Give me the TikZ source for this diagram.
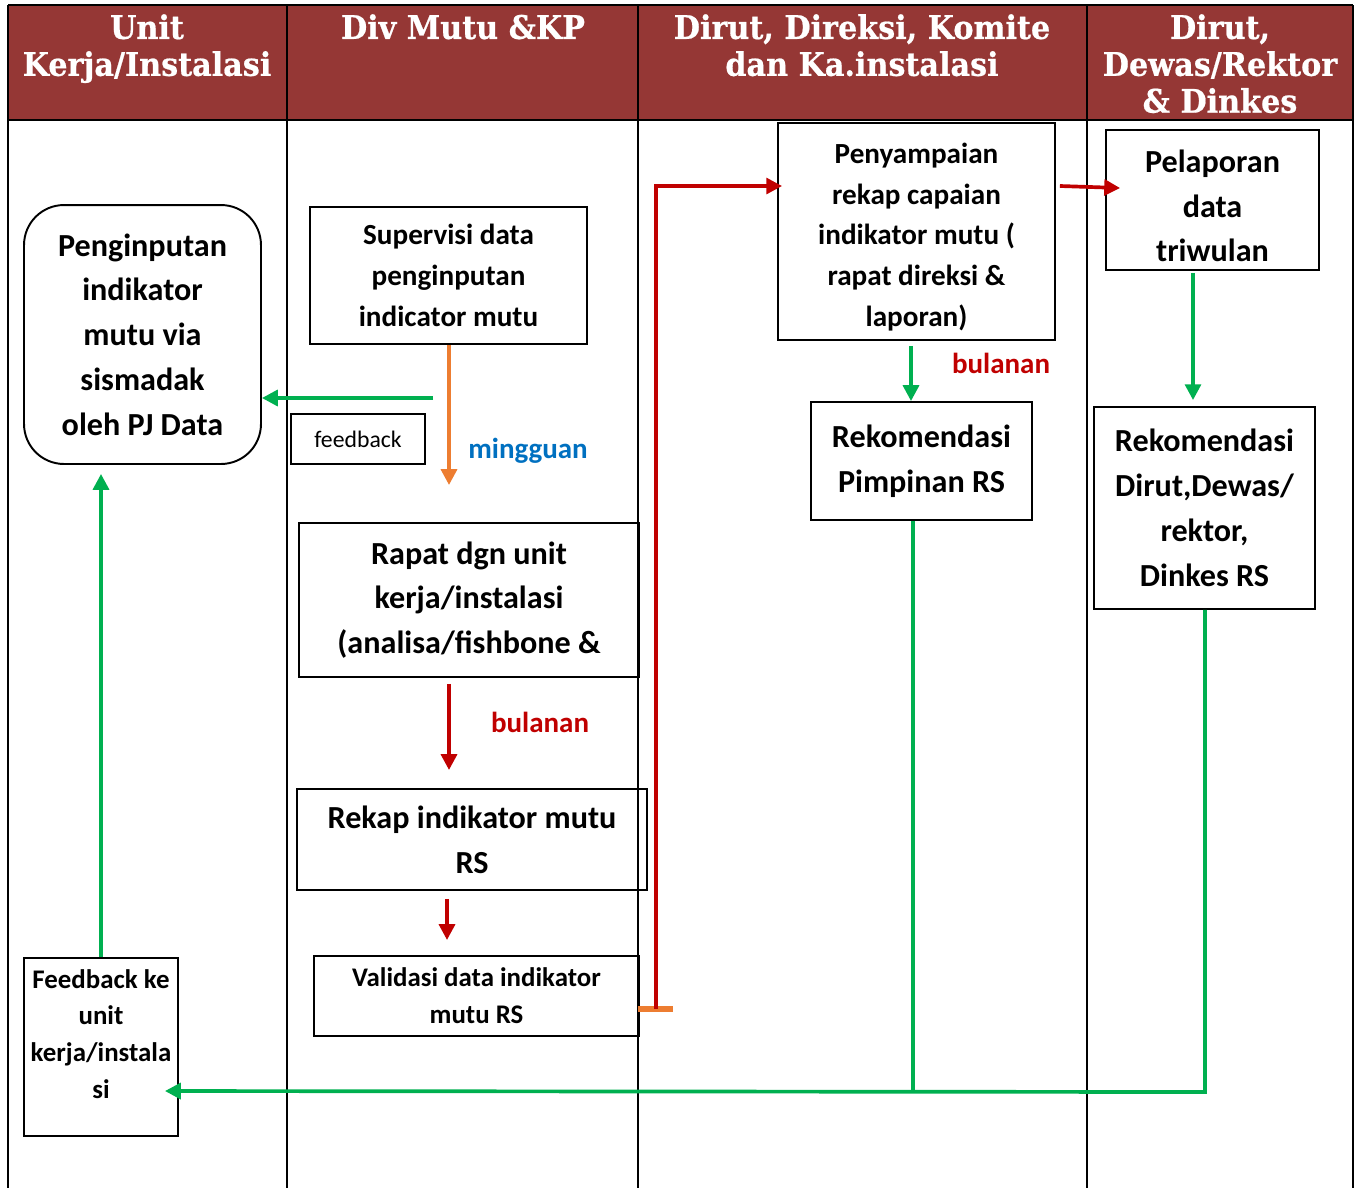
\documentclass[tikz,border=0pt]{standalone}
\usepackage{fontspec}
\setmainfont{Carlito}
\newfontfamily\headfont[FakeStretch=0.93, FakeBold=0.6]{DejaVu Serif}
\usepackage{tikz}
\usetikzlibrary{arrows.meta, positioning, calc}

\definecolor{hdrred}{RGB}{149,55,53}
\definecolor{flowgreen}{RGB}{0,176,80}
\definecolor{floworange}{RGB}{237,125,49}
\definecolor{flowred}{RGB}{192,0,0}
\definecolor{flowblue}{RGB}{0,112,192}

\begin{document}
\begin{tikzpicture}[x=0.02cm, y=-0.02cm,
  box/.style={draw, line width=1.1pt, align=center, font=\bfseries, inner sep=0pt},
  big/.style={font=\fontsize{18.3}{25.5}\selectfont\bfseries},
  mid/.style={font=\fontsize{16.6}{23.2}\selectfont\bfseries},
  small/.style={font=\fontsize{15.3}{21}\selectfont\bfseries},
  hdr/.style={text=white, align=center, font=\headfont\fontsize{18.5}{21}\selectfont\bfseries},
  note/.style={font=\fontsize{16.5}{20}\selectfont\bfseries},
  arr/.style={line width=2.1pt, -{Triangle[length=9pt,width=9pt]}}
]
  \useasboundingbox (0,0) rectangle (1361,1188);

  % Header band
  \fill[hdrred] (8,5) rectangle (1353,120);
  \foreach \x in {8,287,638,1087,1353}
    \draw[line width=1.2pt] (\x,5) -- (\x,1188);
  \draw[line width=1.6pt] (8,5) -- (1353,5) (8,120) -- (1353,120);

  \node[hdr, anchor=north] (h1) at (147,8) {Unit\\Kerja/Instalasi};
  \node[hdr, anchor=north] (h2) at (463,8) {Div Mutu \&KP};
  \node[hdr, anchor=north] (h3) at (862,8) {Dirut, Direksi, Komite\\dan Ka.instalasi};
  \node[hdr, anchor=north] (h4) at (1220,8) {Dirut,\\Dewas/Rektor\\\& Dinkes};

  % Unit kerja
  \node[box, big, rounded corners=0.8cm, minimum width=4.74cm, minimum height=5.18cm]
    (inp) at (142.5,334.5) {Penginputan\\indikator\\mutu via\\sismadak\\oleh PJ Data};
  \node[box, minimum width=3.08cm, minimum height=3.56cm] (fbk) at (101,1047) {};
  \node[small, align=center] (fbktxt) at (101,1034) {Feedback ke\\unit\\kerja/instala\\si};

  % Div Mutu
  \node[box, mid, minimum width=5.54cm, minimum height=2.74cm]
    (sup) at (448.5,275.5) {Supervisi data\\penginputan\\indicator mutu};
  \node[draw, line width=0.8pt, minimum width=2.68cm, minimum height=1cm,
    font=\fontsize{13.5}{16}\selectfont] (fb) at (358,439) {feedback};
  \node[box, big, minimum width=6.8cm, minimum height=3.08cm]
    (rap) at (469,600) {Rapat dgn unit\\kerja/instalasi\\(analisa/fishbone \&};
  \node[box, big, minimum width=7cm, minimum height=2.02cm]
    (rek) at (472,839.5) {Rekap indikator mutu\\RS};
  \node[box, small, minimum width=6.5cm, minimum height=1.6cm]
    (val) at (476.5,996) {Validasi data indikator\\mutu RS};

  % Direksi
  \node[box, minimum width=5.54cm, minimum height=4.34cm] (pny) at (916.5,231.5) {};
  \node[mid, align=center] (pnytxt) at (916.5,237)
    {Penyampaian\\rekap capaian\\indikator mutu (\\rapat direksi \&\\laporan)};
  \node[box, big, minimum width=4.42cm, minimum height=2.36cm]
    (rpr) at (921.5,461) {Rekomendasi\\Pimpinan RS};

  % Dewas / Dinkes
  \node[box, minimum width=4.26cm, minimum height=2.8cm] (pel) at (1212.5,200) {};
  \node[big, align=center] (peltxt) at (1212.5,206) {Pelaporan\\data\\triwulan};
  \node[box, big, minimum width=4.42cm, minimum height=4.04cm]
    (rdd) at (1204.5,508) {Rekomendasi\\Dirut,Dewas/\\rektor,\\Dinkes RS};

  % Labels
  \node[note, text=flowblue] (lmg) at (528,451) {mingguan};
  \node[note, text=flowred] (lb1) at (540,722) {bulanan};
  \node[note, text=flowred] (lb2) at (1001,363) {bulanan};

  % Free ends
  \coordinate (fbstart) at (433,398);
  \coordinate (supend) at (449,485);
  \coordinate (rapend) at (449,770);
  \coordinate (rekend) at (447,940);
  \coordinate (tbar) at (656,1009);
  \coordinate (join1) at (913,1092);
  \coordinate (join2) at (1205,1092);

  % Connectors
  \draw[arr, flowgreen] (fbstart) -- (inp.east |- fbstart);
  \draw[arr, floworange] (sup.south -| supend) -- (supend);
  \draw[arr, flowred] ([yshift=-0.12cm]rap.south -| rapend) -- (rapend);
  \draw[arr, flowred] ([yshift=-0.16cm]rek.south -| rekend) -- (rekend);
  \draw[line width=3.2pt, floworange] ([xshift=-0.04cm]val.east |- tbar) -- ++(35,0);
  \draw[arr, flowred] (tbar) -- (656,186) -- ([xshift=0.1cm]pny.west |- 0,186);
  \draw[arr, flowred] ([xshift=0.08cm]pny.east |- 0,186) -- ([xshift=0.3cm]pel.west |- 0,188);
  \draw[arr, flowgreen] ([yshift=-0.1cm]pny.south -| 911,0) -- (rpr.north -| 911,0);
  \draw[arr, flowgreen] ([yshift=-0.04cm]pel.south -| 1193,0) -- ([yshift=0.12cm]rdd.north -| 1193,0);
  \draw[line width=2.1pt, flowgreen] (rpr.south -| join1) -- (join1);
  \draw[arr, flowgreen] (rdd.south -| join2) -- (join2) -- ([xshift=-0.28cm]fbk.east |- 0,1091);
  \draw[arr, flowgreen] (fbk.north) -- ([yshift=-0.18cm]inp.south -| fbk.north);
\end{tikzpicture}
\end{document}
